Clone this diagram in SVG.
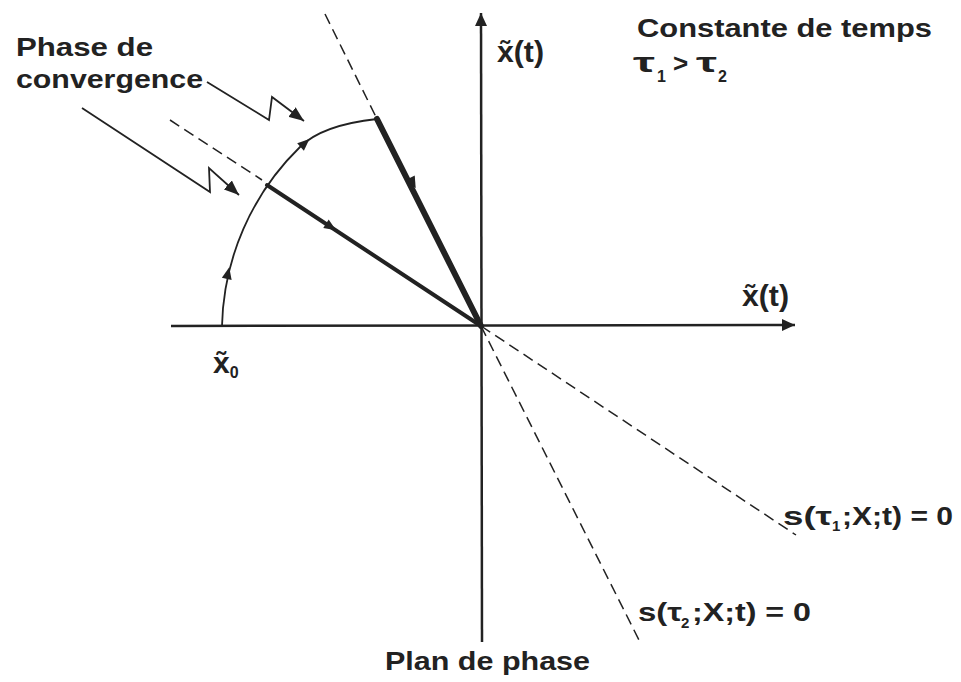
<svg xmlns="http://www.w3.org/2000/svg" xmlns:xlink="http://www.w3.org/1999/xlink" width="961" height="682" viewBox="0 0 961 682">
<style>
  .t { font-family: "Liberation Sans", Arial, sans-serif; font-weight: bold; fill: #222; }
  .axis { stroke: #222; stroke-width: 2.5; fill: none; }
  .dash { stroke: #222; stroke-width: 1.5; stroke-dasharray: 11 6; fill: none; }
  .thin { stroke: #222; stroke-width: 1.8; fill: none; }
  .ah { fill: #222; }
</style>
<defs>
  <marker id="axArrow" markerUnits="userSpaceOnUse" markerWidth="14" markerHeight="12" refX="13" refY="6" orient="auto">
    <path d="M0,0 L13,6 L0,12 z" fill="#222"/>
  </marker>
  <marker id="boltArrow" markerUnits="userSpaceOnUse" markerWidth="16" markerHeight="12" refX="15" refY="6" orient="auto">
    <path d="M0,0 L15,6 L0,12 z" fill="#222"/>
  </marker>
  <path id="ah" d="M6,0 L-6,-5 L-6,5 z"/>
</defs>
<rect width="961" height="682" fill="#fff"/>

<g id="connectors">
  <!-- axes -->
  <line class="axis" x1="171" y1="326" x2="795" y2="325" marker-end="url(#axArrow)"/>
  <line class="axis" x1="482" y1="642" x2="481" y2="13" marker-end="url(#axArrow)"/>
  <!-- sliding lines (dashed) -->
  <line class="dash" x1="325" y1="14" x2="377" y2="119"/>
  <line class="dash" x1="481" y1="326" x2="640" y2="642"/>
  <line class="dash" x1="170" y1="120" x2="262" y2="180"/>
  <line class="dash" x1="481" y1="326" x2="796" y2="535"/>
  <!-- convergence arc -->
  <path class="thin" d="M222,326 A258,258 0 0 1 300,147 Q322,125 377,119"/>
  <!-- sliding phases -->
  <line stroke="#222" stroke-width="6" stroke-linecap="round" x1="377" y1="119" x2="481" y2="326"/>
  <line stroke="#222" stroke-width="4" stroke-linecap="round" x1="267" y1="185" x2="481" y2="326"/>
  <!-- arrows along trajectories -->
  <use xlink:href="#ah" class="ah" transform="translate(228,273) rotate(-78)"/>
  <use xlink:href="#ah" class="ah" transform="translate(305,143) rotate(-42)"/>
  <use xlink:href="#ah" class="ah" transform="translate(413,183) rotate(63)"/>
  <use xlink:href="#ah" class="ah" transform="translate(331,227) rotate(33)"/>
  <!-- lightning pointers -->
  <polyline class="thin" points="207,82 269,120 272,97 304,121" marker-end="url(#boltArrow)"/>
  <polyline class="thin" points="82,108 210,192 209,168 239,195" marker-end="url(#boltArrow)"/>
</g>

<g id="label-phase-convergence">
  <text class="t" x="16" y="56" font-size="26" textLength="137" lengthAdjust="spacingAndGlyphs">Phase de</text>
  <text class="t" x="16" y="88" font-size="26" textLength="187" lengthAdjust="spacingAndGlyphs">convergence</text>
</g>

<g id="label-constante">
  <text class="t" x="637" y="37" font-size="26" textLength="295" lengthAdjust="spacingAndGlyphs">Constante de temps</text>
  <text class="t" x="633" y="72" font-size="28" textLength="22" lengthAdjust="spacingAndGlyphs">τ</text>
  <text class="t" x="657" y="82" font-size="16">1</text>
  <text class="t" x="673" y="72" font-size="26">&gt;</text>
  <text class="t" x="696" y="72" font-size="28" textLength="21" lengthAdjust="spacingAndGlyphs">τ</text>
  <text class="t" x="718" y="82" font-size="16">2</text>
</g>

<g id="label-y-axis">
  <text class="t" x="497" y="62" font-size="29" textLength="47" lengthAdjust="spacingAndGlyphs">x̃(t)</text>
</g>

<g id="label-x-axis">
  <text class="t" x="742" y="306" font-size="29" textLength="47" lengthAdjust="spacingAndGlyphs">x̃(t)</text>
</g>

<g id="label-x0">
  <text class="t" x="213" y="373" font-size="30">x̃<tspan font-size="16" dy="5">0</tspan></text>
</g>

<g id="label-s1">
  <text class="t" x="783" y="525" font-size="26" textLength="49" lengthAdjust="spacingAndGlyphs">s(τ</text>
  <text class="t" x="832" y="531" font-size="15">1</text>
  <text class="t" x="842" y="525" font-size="26" textLength="111" lengthAdjust="spacingAndGlyphs">;X;t) = 0</text>
</g>

<g id="label-s2">
  <text class="t" x="638" y="621" font-size="26" textLength="44" lengthAdjust="spacingAndGlyphs">s(τ</text>
  <text class="t" x="681" y="628" font-size="15">2</text>
  <text class="t" x="692" y="621" font-size="26" textLength="119" lengthAdjust="spacingAndGlyphs">;X;t) = 0</text>
</g>

<g id="label-plan">
  <text class="t" x="385" y="670" font-size="25" textLength="205" lengthAdjust="spacingAndGlyphs">Plan de phase</text>
</g>
</svg>
